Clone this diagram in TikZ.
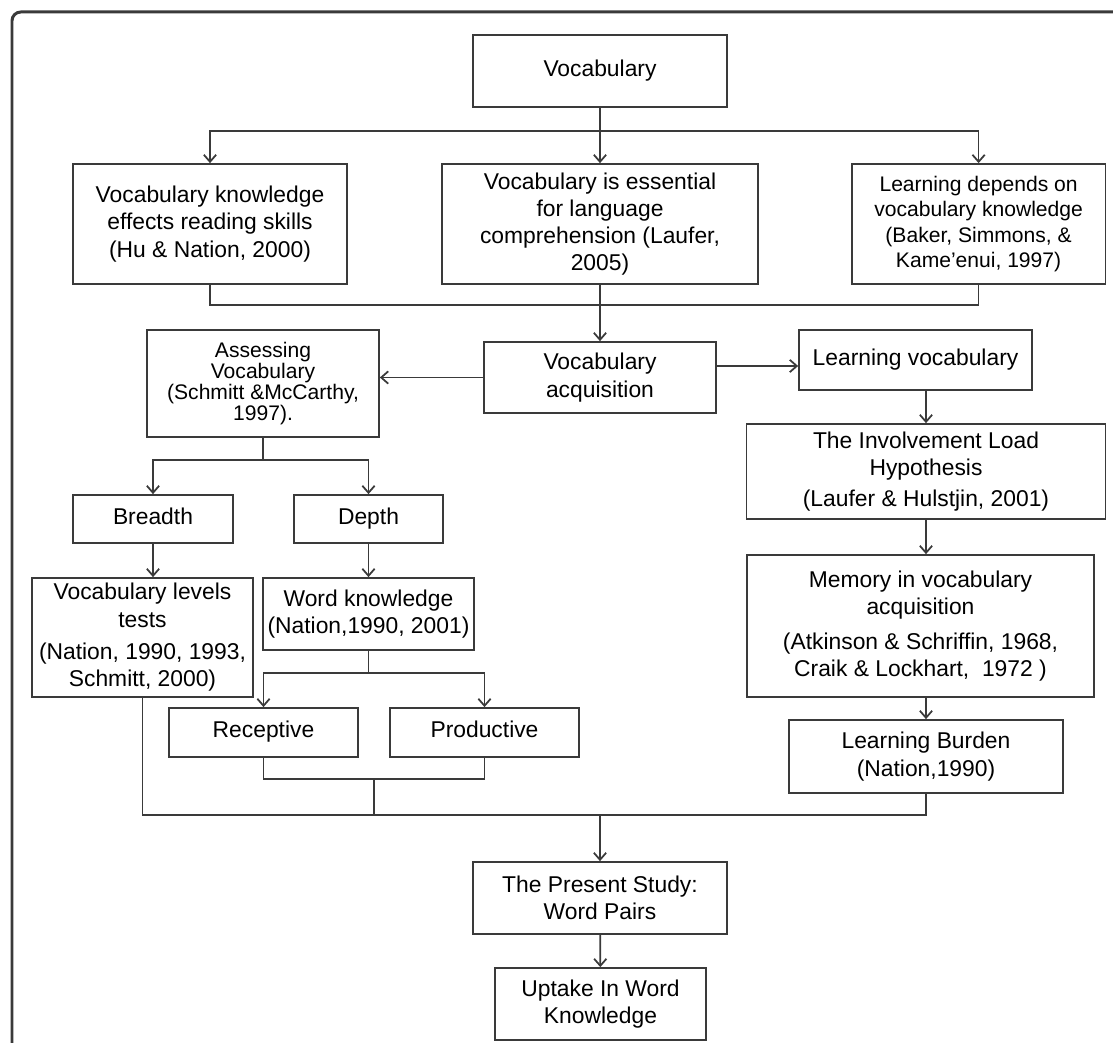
\documentclass[tikz,border=0pt]{standalone}
\usepackage{fontspec}
\setmainfont{Liberation Sans}
\usetikzlibrary{arrows.meta}
\definecolor{linegray}{HTML}{3A3A3A}

\begin{document}
\begin{tikzpicture}[x=0.02cm, y=-0.02cm,
        block/.style={draw=linegray, line width=1pt, rectangle, align=center, inner sep=2pt,
            font=\fontsize{13}{15.5}\selectfont},
        oneline/.style={block, text height=1.6ex, text depth=0.45ex},
        link/.style={draw=linegray, line width=1pt},
        >={Straight Barb[length=4pt, width=7pt]}]
        \useasboundingbox (0,0) rectangle (1113,1043);
        % Draw the frame
        \draw[linegray, line width=1.7pt, rounded corners=5pt] (1113,12) -- (12,12) -- (12,1043);

        % Draw the nodes
        \node[oneline, minimum width=5.08cm, minimum height=1.44cm] (vocab) at (600,71) {Vocabulary};
        \node[block, minimum width=5.49cm, minimum height=2.4cm] (hu) at (210,224) {Vocabulary knowledge\\effects reading skills\\(Hu \& Nation, 2000)};
        \node[block, minimum width=6.31cm, minimum height=2.4cm] (laufer) at (600,224) {Vocabulary is essential\\for language\\comprehension (Laufer,\\2005)};
        \node[block, minimum width=5.08cm, minimum height=2.4cm, font=\fontsize{12}{14.5}\selectfont] (baker) at (978.6,224) {Learning depends on\\vocabulary knowledge\\(Baker, Simmons, \&\\Kame'enui, 1997)};
        \node[block, minimum width=4.64cm, minimum height=1.42cm] (acq) at (600,377.5) {Vocabulary\\acquisition};
        \node[block, minimum width=4.64cm, minimum height=2.14cm, font=\fontsize{12}{11.8}\selectfont] (assess) at (263,383.5) {Assessing\\Vocabulary\\(Schmitt \&McCarthy,\\1997).};
        \node[oneline, minimum width=4.66cm, minimum height=1.2cm] (learnvoc) at (915.5,360) {Learning vocabulary};
        \node[oneline, minimum width=3.2cm, minimum height=0.96cm] (breadth) at (153,519) {Breadth};
        \node[oneline, minimum width=2.98cm, minimum height=0.96cm] (depth) at (368.5,519) {Depth};
        \node[block, minimum width=4.42cm, minimum height=2.38cm] (levels) at (142.5,637.5) {Vocabulary levels\\tests\\[3pt](Nation, 1990, 1993,\\Schmitt, 2000)};
        \node[block, minimum width=4.22cm, minimum height=1.44cm] (wordknow) at (368.5,614) {Word knowledge\\(Nation,1990, 2001)};
        \node[oneline, minimum width=3.78cm, minimum height=0.98cm] (recep) at (263.5,732.5) {Receptive};
        \node[oneline, minimum width=3.78cm, minimum height=0.98cm] (produc) at (484.5,732.5) {Productive};
        \node[block, minimum width=7.18cm, minimum height=1.9cm] (involve) at (926,471.5) {The Involvement Load\\Hypothesis\\[2pt](Laufer \& Hulstjin, 2001)};
        \node[block, minimum width=6.94cm, minimum height=2.84cm] (memory) at (920.5,626) {Memory in vocabulary\\acquisition\\[4pt](Atkinson \& Schriffin, 1968,\\Craik \& Lockhart,~ 1972~)};
        \node[block, minimum width=5.48cm, minimum height=1.46cm] (burden) at (926,756.5) {Learning Burden\\(Nation,1990)};
        \node[block, minimum width=5.08cm, minimum height=1.44cm] (study) at (600,898) {The Present Study:\\Word Pairs};
        \node[block, minimum width=4.22cm, minimum height=1.44cm] (uptake) at (600.5,1004) {Uptake In Word\\Knowledge};

        % Branch points
        \coordinate (vsplit) at (600,131);
        \coordinate (tmerge) at (600,305);
        \coordinate (asplit) at (263,460);
        \coordinate (wsplit) at (368.5,673);
        \coordinate (rpjoin) at (374,779);
        \coordinate (join) at (600,815);

        % Draw the arrows
        \draw[link, ->] (vocab) -- (laufer);
        \draw[link, ->] (vsplit) -| (hu);
        \draw[link, ->] (vsplit) -| (baker);
        \draw[link] (hu) |- (tmerge);
        \draw[link] (baker) |- (tmerge);
        \draw[link, ->] (laufer) -- (acq);
        \draw[link, ->] (acq.west) -- (acq.west -| assess.east);
        \draw[link, ->] ([yshift=0.23cm]acq.east) -- ([yshift=0.23cm]acq.east -| learnvoc.west);
        \draw[link] (assess) -- (asplit);
        \draw[link, ->] (asplit) -| (breadth);
        \draw[link, ->] (asplit) -| (depth);
        \draw[link, ->] (breadth.south) -- (breadth.south |- levels.north);
        \draw[link, ->] (depth) -- (wordknow);
        \draw[link] (wordknow) -- (wsplit);
        \draw[link, ->] (wsplit) -| (recep);
        \draw[link, ->] (wsplit) -| (produc);
        \draw[link] (recep.south) |- (rpjoin) -| (produc.south);
        \draw[link, ->] (learnvoc.south -| involve.north) -- (involve.north);
        \draw[link, ->] (involve.south) -- (involve.south |- memory.north);
        \draw[link, ->] (memory.south -| burden.north) -- (burden.north);
        \draw[link] (levels.south) |- (join);
        \draw[link] (burden.south) |- (join);
        \draw[link] (rpjoin) -- (rpjoin |- join);
        \draw[link, ->] (join) -- (study);
        \draw[link, ->] (study) -- (uptake);
\end{tikzpicture}
\end{document}
